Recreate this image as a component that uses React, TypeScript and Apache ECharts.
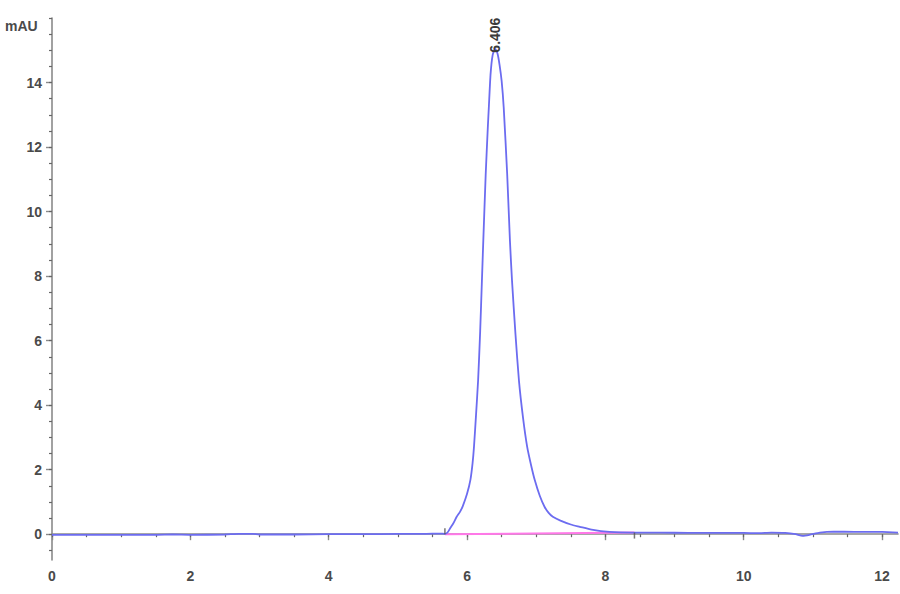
import React, { useEffect, useRef } from 'react';
import * as echarts from 'echarts';

// Retention time (min) and absorbance (mAU)
const times = [
  0.0, 0.5, 1.0, 1.5, 1.75, 2.0, 2.5, 2.7, 2.9, 3.0, 3.5, 4.0, 4.5, 5.0, 5.4, 5.6,
  5.68, 5.72, 5.76, 5.8, 5.85, 5.9, 5.94, 6.0, 6.05, 6.08, 6.1, 6.13, 6.16, 6.19,
  6.215, 6.235, 6.27, 6.3, 6.315, 6.34, 6.37, 6.406, 6.44, 6.47, 6.5, 6.53, 6.58,
  6.62, 6.65, 6.7, 6.75, 6.81, 6.87, 6.93, 6.98, 7.05, 7.12, 7.18, 7.24, 7.35, 7.5,
  7.63, 7.8, 8.06, 8.4, 8.8, 9.2, 9.6, 10.0, 10.2, 10.4, 10.6, 10.75, 10.85, 10.95,
  11.1, 11.3, 11.6, 12.0, 12.23,
];
const absorbance = [
  -0.02, -0.02, -0.02, -0.02, -0.01, -0.02, -0.01, 0.01, 0.01, -0.01, -0.01, 0.0, 0.0, 0.01, 0.01, 0.02,
  0.01, 0.06, 0.2, 0.33, 0.54, 0.7, 0.88, 1.25, 1.7, 2.2, 2.7, 3.7, 4.77, 6.3,
  7.86, 9.1, 11.17, 12.6, 13.23, 14.26, 14.85, 15.05, 14.9, 14.55, 14.05, 13.23, 11.17,
  9.1, 7.86, 6.2, 4.77, 3.6, 2.7, 2.1, 1.67, 1.2, 0.85, 0.66, 0.54, 0.42, 0.3,
  0.23, 0.14, 0.07, 0.05, 0.05, 0.04, 0.04, 0.04, 0.03, 0.05, 0.04, 0.0, -0.05, -0.02,
  0.05, 0.08, 0.07, 0.07, 0.05,
];

// Integration baseline
const baselineTimes = [5.68, 8.42];
const baselineValues = [0.0, 0.05];

// Peak annotation
const peakTime = 6.406;
const peakHeight = 15.05;
const peakLabel = '6.406';

// Axis ticks
const xMajorTicks = [0, 2, 4, 6, 8, 10, 12];
const xMinorTicks = [
  0, 0.5, 1, 1.5, 2, 2.5, 3, 3.5, 4, 4.5, 5, 5.5, 6, 6.5, 7, 7.5, 8, 8.5, 9, 9.5,
  10, 10.5, 11, 11.5, 12,
];
const yMajorTicks = [0, 2, 4, 6, 8, 10, 12, 14];
const yMinorTicks = [
  -0.5, 0, 0.5, 1, 1.5, 2, 2.5, 3, 3.5, 4, 4.5, 5, 5.5, 6, 6.5, 7, 7.5, 8, 8.5, 9,
  9.5, 10, 10.5, 11, 11.5, 12, 12.5, 13, 13.5, 14, 14.5, 15, 15.5, 16,
];
const xRange = [0, 12.23];
const yRange = [-0.8, 16];
const yUnit = 'mAU';

const AXIS_COLOR = '#8a8a8a';
const LABEL_COLOR = '#4a4a4a';
const FONT = 'Liberation Sans, Arial, sans-serif';

export default function App() {
  const ref = useRef<HTMLDivElement>(null);

  useEffect(() => {
    if (!ref.current) return;
    const chart = echarts.init(ref.current, undefined, { renderer: 'svg' });

    const trace = times.map((t, i) => [t, absorbance[i]]);
    const baseline = baselineTimes.map((t, i) => [t, baselineValues[i]]);

    const axisLine = { show: true, lineStyle: { color: AXIS_COLOR, width: 1.6 } };
    const labelStyle = {
      color: LABEL_COLOR,
      fontSize: 14,
      fontWeight: 'bold' as const,
      fontFamily: FONT,
    };

    chart.setOption({
      animation: false,
      backgroundColor: '#ffffff',
      grid: { left: 52, right: 2, top: 18, bottom: 34, containLabel: false },
      xAxis: [
        {
          type: 'value',
          min: xRange[0],
          max: xRange[1],
          position: 'bottom',
          axisLine,
          splitLine: { show: false },
          axisTick: {
            show: true,
            customValues: xMajorTicks,
            length: 6,
            lineStyle: { color: AXIS_COLOR, width: 1.4 },
          },
          axisLabel: {
            show: true,
            customValues: xMajorTicks,
            margin: 9,
            ...labelStyle,
          },
        },
        {
          type: 'value',
          min: xRange[0],
          max: xRange[1],
          position: 'bottom',
          axisLine: { show: false },
          splitLine: { show: false },
          axisTick: {
            show: true,
            customValues: xMinorTicks,
            length: 3,
            lineStyle: { color: '#666', width: 1.2 },
          },
          axisLabel: { show: false },
        },
      ],
      yAxis: [
        {
          type: 'value',
          min: yRange[0],
          max: yRange[1],
          position: 'left',
          axisLine,
          splitLine: { show: false },
          axisTick: {
            show: true,
            customValues: yMajorTicks,
            length: 6,
            lineStyle: { color: AXIS_COLOR, width: 1.4 },
          },
          axisLabel: {
            show: true,
            customValues: yMajorTicks,
            margin: 10,
            ...labelStyle,
          },
        },
        {
          type: 'value',
          min: yRange[0],
          max: yRange[1],
          position: 'left',
          axisLine: { show: false },
          splitLine: { show: false },
          axisTick: {
            show: true,
            customValues: yMinorTicks,
            length: 3,
            lineStyle: { color: '#666', width: 1.2 },
          },
          axisLabel: { show: false },
        },
      ],
      graphic: [
        {
          type: 'text',
          left: 5,
          top: 19,
          style: {
            text: yUnit,
            fill: LABEL_COLOR,
            fontSize: 14,
            fontWeight: 'bold',
            fontFamily: FONT,
          },
        },
      ],
      series: [
        {
          name: 'baseline',
          type: 'line',
          data: baseline,
          showSymbol: false,
          symbol: 'none',
          lineStyle: { color: '#ff78e8', width: 2 },
          z: 3,
        },
        {
          name: 'trace',
          type: 'line',
          data: trace,
          showSymbol: false,
          symbol: 'none',
          smooth: 0.2,
          lineStyle: { color: '#6c6cf0', width: 1.8 },
          z: 4,
          markPoint: {
            symbol: 'rect',
            symbolSize: 0,
            data: [{ coord: [peakTime, peakHeight], value: peakLabel }],
            label: {
              show: true,
              position: 'inside',
              formatter: peakLabel,
              rotate: 90,
              align: 'left',
              verticalAlign: 'middle',
              offset: [-4, 0],
              color: '#3a3a3a',
              fontSize: 14,
              fontWeight: 'bold',
              fontFamily: FONT,
            },
          },
        },
        {
          name: 'baselineMarks',
          type: 'scatter',
          data: [
            { value: baseline[0], symbolOffset: [0, -3] },
            { value: baseline[1], symbolOffset: [0, 3] },
          ],
          symbol: 'rect',
          symbolSize: [1.5, 6],
          itemStyle: { color: '#555' },
          z: 5,
        },
      ],
    });

    return () => chart.dispose();
  }, []);

  return (
    <div
      ref={ref}
      style={{ position: 'absolute', left: 0, top: 0, width: 900, height: 594 }}
    />
  );
}
